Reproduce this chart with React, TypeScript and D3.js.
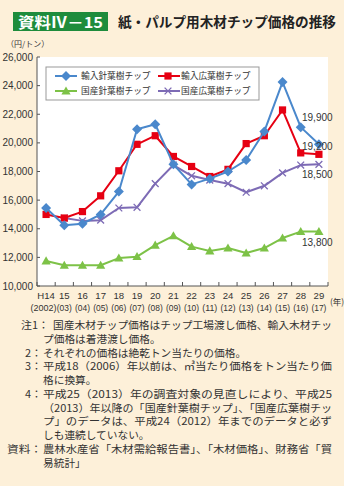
import React from "react";
import * as d3 from "d3";

const years = ["H14","15","16","17","18","19","20","21","22","23","24","25","26","27","28","29"];
const yearsWestern = ["(2002)","(03)","(04)","(05)","(06)","(07)","(08)","(09)","(10)","(11)","(12)","(13)","(14)","(15)","(16)","(17)"];
const importSoft = [15450,14250,14350,15000,16600,20950,21300,18500,17100,17500,18000,18800,20800,24250,21100,19900];
const importHard = [15000,14750,15200,16300,18050,19900,20500,19050,18350,17650,18150,19950,20500,22300,19300,19200];
const domSoft = [11750,11450,11450,11450,11950,12050,12850,13500,12750,12450,12650,12300,12650,13350,13800,13800];
const domHard: (number|null)[] = [null,14750,14550,14600,15450,15500,17150,18450,17700,17400,17150,16550,17000,17900,18450,18500];
const yTicks = [10000,12000,14000,16000,18000,20000,22000,24000,26000];
const endLabels = [
  { text: "19,900", value: 19900, dy: -27 },
  { text: "19,200", value: 19200, dy: -7.5 },
  { text: "18,500", value: 18500, dy: 10 },
  { text: "13,800", value: 13800, dy: 10.7 },
];
const legendNames = ["輸入針葉樹チップ","輸入広葉樹チップ","国産針葉樹チップ","国産広葉樹チップ"];
const notes = [
  { x: 21, t: "注1：", tl: 28, bx: 53, body: "国産木材チップ価格はチップ工場渡し価格、輸入木材チッ", fit: true },
  { x: 0, t: "", tl: 0, bx: 43, body: "プ価格は着港渡し価格。", fit: false },
  { x: 25, t: "2：", tl: 17, bx: 43, body: "それぞれの価格は絶乾トン当たりの価格。", fit: false },
  { x: 25, t: "3：", tl: 17, bx: 43, body: "平成18（2006）年以前は、㎥当たり価格をトン当たり価", fit: true },
  { x: 0, t: "", tl: 0, bx: 43, body: "格に換算。", fit: false },
  { x: 25, t: "4：", tl: 17, bx: 43, body: "平成25（2013）年の調査対象の見直しにより、平成25", fit: true },
  { x: 0, t: "", tl: 0, bx: 43, body: "（2013）年以降の「国産針葉樹チップ」、「国産広葉樹チッ", fit: true },
  { x: 0, t: "", tl: 0, bx: 43, body: "プ」のデータは、平成24（2012）年までのデータと必ず", fit: true },
  { x: 0, t: "", tl: 0, bx: 43, body: "しも連続していない。", fit: false },
  { x: 7, t: "資料：", tl: 35, bx: 43, body: "農林水産省「木材需給報告書」、「木材価格」、財務省「貿", fit: true },
  { x: 0, t: "", tl: 0, bx: 43, body: "易統計」", fit: false },
];

const BLUE = "#4a88cc";
const RED = "#e60012";
const GREEN = "#7dc247";
const PURPLE = "#7d6bb5";
const BG = "#fdf0d9";
const JP = "'Noto Sans CJK JP', 'Noto Sans', sans-serif";
const NUM = "'Liberation Sans', Arial, sans-serif";

function Marker({ kind, x, y, color }: { kind: string; x: number; y: number; color: string }) {
  if (kind === "diamond") {
    const s = 5;
    return <path d={`M${x},${y - s}L${x + s},${y}L${x},${y + s}L${x - s},${y}Z`} fill={color} />;
  }
  if (kind === "square") {
    const s = 3.6;
    return <rect x={x - s} y={y - s} width={2 * s} height={2 * s} fill={color} />;
  }
  if (kind === "triangle") {
    const s = 4.6;
    return <path d={`M${x},${y - s}L${x + s},${y + s * 0.75}L${x - s},${y + s * 0.75}Z`} fill={color} />;
  }
  const s = 3.4;
  return (
    <path d={`M${x - s},${y - s}L${x + s},${y + s}M${x + s},${y - s}L${x - s},${y + s}`} stroke={color} strokeWidth={1.3} fill="none" />
  );
}

export default function App() {
  const W = 344, H = 486;
  const left = 37, right = 328, top = 57, bottom = 286;
  const x = d3.scaleBand<string>().domain(years).range([left, right]);
  const y = d3.scaleLinear().domain([10000, 26000]).range([bottom, top]);
  const cx = (i: number) => (x(years[i]) as number) + x.bandwidth() / 2;

  const series = [
    { data: importSoft as (number|null)[], color: BLUE, kind: "diamond" },
    { data: domHard, color: PURPLE, kind: "x" },
    { data: domSoft as (number|null)[], color: GREEN, kind: "triangle" },
    { data: importHard as (number|null)[], color: RED, kind: "square" },
  ];
  const drawOrder = [1, 2, 3, 0];

  const line = d3
    .line<number | null>()
    .defined((d) => d != null)
    .x((_, i) => cx(i))
    .y((d) => y(d as number));

  const legendItems = [
    { name: legendNames[0], color: BLUE, kind: "diamond", lx: 55, mx: 66, tx: 81, y: 76 },
    { name: legendNames[1], color: RED, kind: "square", lx: 158, mx: 168, tx: 181, y: 76 },
    { name: legendNames[2], color: GREEN, kind: "triangle", lx: 55, mx: 66, tx: 81, y: 91 },
    { name: legendNames[3], color: PURPLE, kind: "x", lx: 158, mx: 168, tx: 181, y: 91 },
  ];

  return (
    <svg width={W} height={H} style={{ position: "absolute", left: 0, top: 0 }}>
      <rect x={0} y={0} width={W} height={H} fill={BG} />
      {/* title */}
      <rect x={13} y={12} width={95} height={19} fill="#1e8c3c" />
      <text x={18} y={27.5} fill="#fff" fontFamily={JP} fontSize={15} fontWeight="bold" textLength={85} lengthAdjust="spacingAndGlyphs">資料Ⅳ－15</text>
      <text x={118} y={27} fill="#222" fontFamily={JP} fontSize={13.6} fontWeight="bold" textLength={218} lengthAdjust="spacingAndGlyphs">紙・パルプ用木材チップ価格の推移</text>
      <text x={6} y={47} fill="#333" fontFamily={JP} fontSize={8}>（円/トン）</text>

      {/* plot panel */}
      <rect x={left} y={top} width={right - left} height={bottom - top} fill="#fff" />
      {/* axes */}
      <line x1={left} y1={top} x2={left} y2={bottom} stroke="#555" strokeWidth={1} />
      <line x1={left} y1={bottom} x2={right} y2={bottom} stroke="#555" strokeWidth={1} />
      {yTicks.map((t) => (
        <g key={t}>
          <line x1={left} x2={left + 3} y1={y(t)} y2={y(t)} stroke="#555" />
          <text x={33} y={y(t) + 3.6} textAnchor="end" fontFamily={NUM} fontSize={10} fill="#333">{d3.format(",")(t)}</text>
        </g>
      ))}
      {years.map((yr, i) => (
        <g key={yr}>
          <line x1={(x(yr) as number)} x2={(x(yr) as number)} y1={bottom} y2={bottom - 4} stroke="#555" />
          <text x={cx(i)} y={299} textAnchor="middle" fontFamily={NUM} fontSize={9.6} fill="#333">{yr}</text>
          <text x={i === 0 ? cx(i) - 2.5 : cx(i)} y={311} textAnchor="middle" fontFamily={NUM} fontSize={9.2} fill="#333" textLength={yearsWestern[i].length > 4 ? 26 : 15} lengthAdjust="spacingAndGlyphs">{yearsWestern[i]}</text>
        </g>
      ))}
      <line x1={right} x2={right} y1={bottom} y2={bottom - 4} stroke="#555" />
      <text x={330} y={305} fontFamily={JP} fontSize={8.5} fill="#333">(年)</text>

      {/* legend */}
      <rect x={46} y={67} width={213} height={33} fill="#fff" stroke="#999" strokeWidth={1} />
      {legendItems.map((l) => (
        <g key={l.name}>
          <line x1={l.lx} x2={l.lx + 22} y1={l.y} y2={l.y} stroke={l.color} strokeWidth={2} />
          <Marker kind={l.kind} x={l.mx} y={l.y} color={l.color} />
          <text x={l.tx} y={l.y + 3.2} fontFamily={JP} fontSize={8.7} fill="#333">{l.name}</text>
        </g>
      ))}

      {/* series */}
      {drawOrder.map((si) => {
        const s = series[si];
        return (
          <g key={si}>
            <path d={line(s.data) || ""} fill="none" stroke={s.color} strokeWidth={2} strokeLinejoin="round" />
            {s.data.map((v, i) => (v == null ? null : <Marker key={i} kind={s.kind} x={cx(i)} y={y(v)} color={s.color} />))}
          </g>
        );
      })}

      {/* end labels */}
      {endLabels.map((e) => (
        <text key={e.text} x={302} y={y(e.value) + e.dy + 3.5} fontFamily={NUM} fontSize={10} fill="#333">{e.text}</text>
      ))}

      {/* notes */}
      {notes.map((n, i) => {
        const yy = 329 + i * 13.75;
        return (
          <g key={i}>
            {n.t && (
              <text x={n.x} y={yy} fontFamily={JP} fontSize={10.7} fill="#333" textLength={n.tl} lengthAdjust="spacingAndGlyphs">{n.t}</text>
            )}
            <text x={n.bx} y={yy} fontFamily={JP} fontSize={10.7} fill="#333" {...(n.fit ? { textLength: 332 - n.bx, lengthAdjust: "spacingAndGlyphs" } : {})}>{n.body}</text>
          </g>
        );
      })}
    </svg>
  );
}
